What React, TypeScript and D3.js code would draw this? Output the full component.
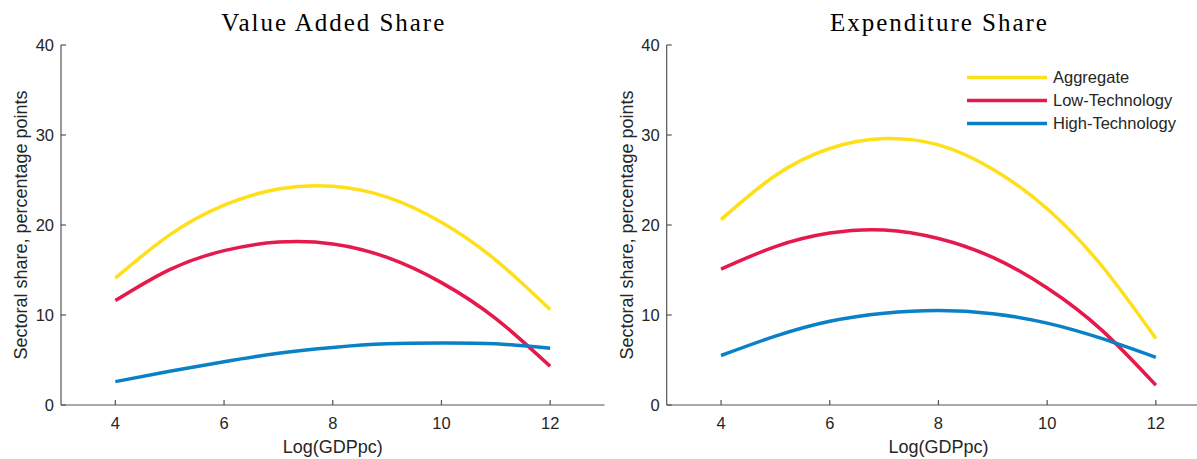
import * as d3 from "d3";
import React from "react";

// log GDP per capita grid
const gdpGrid = [4, 5, 6, 7, 8, 9, 10, 11, 12];

// value added share (percentage points)
const vaAggregate = [14.1, 18.9, 22.2, 24.0, 24.3, 23.1, 20.3, 16.1, 10.6];
const vaLowTech = [11.6, 15.05, 17.15, 18.1, 17.9, 16.4, 13.6, 9.6, 4.3];
const vaHighTech = [2.6, 3.75, 4.8, 5.75, 6.4, 6.8, 6.9, 6.8, 6.3];

// expenditure share (percentage points)
const exAggregate = [20.6, 25.5, 28.5, 29.6, 28.9, 26.2, 21.8, 15.5, 7.4];
const exLowTech = [15.1, 17.6, 19.1, 19.45, 18.5, 16.4, 13.0, 8.35, 2.2];
const exHighTech = [5.5, 7.65, 9.3, 10.2, 10.5, 10.15, 9.1, 7.4, 5.3];

const seriesNames = ["Aggregate", "Low-Technology", "High-Technology"];
const xTicks = [4, 6, 8, 10, 12];
const yTicks = [0, 10, 20, 30, 40];

const colors = ["#ffdf1a", "#e5194b", "#0a80c6"];
const textColor = "#262626";
const axisColor = "#555555";
const sans = "'Liberation Sans', Arial, sans-serif";

const W = 1197;
const H = 459;

const panels = [
  { title: "Value Added Share", titleW: 223, left: 61, series: [vaAggregate, vaLowTech, vaHighTech], legend: false },
  { title: "Expenditure Share", titleW: 217, left: 666.7, series: [exAggregate, exLowTech, exHighTech], legend: true },
];

const Panel = ({ p }: { p: any }) => {
  const top = 45;
  const bottom = 405;
  const pw = 543.5;

  const x = d3.scaleLinear().domain([3, 13]).range([p.left, p.left + pw]);
  const y = d3.scaleLinear().domain([0, 40]).range([bottom, top]);

  const line = d3
    .line<number>()
    .x((_, i) => x(gdpGrid[i]))
    .y((d) => y(d))
    .curve(d3.curveNatural);

  const cx = p.left + pw / 2;

  return (
    <g>
      <text
        x={cx}
        y={31}
        textAnchor="middle"
        fontFamily="'Liberation Serif', 'Times New Roman', serif"
        fontSize={25}
        textLength={p.titleW}
        lengthAdjust="spacing"
        fill="#000"
      >
        {p.title}
      </text>

      {/* axes */}
      <line x1={x(3)} x2={x(3)} y1={top} y2={bottom} stroke={axisColor} strokeWidth={1.2} />
      <line x1={x(3)} x2={x(13)} y1={bottom} y2={bottom} stroke={axisColor} strokeWidth={1.2} />

      {yTicks.map((t) => (
        <g key={"y" + t}>
          <line x1={x(3)} x2={x(3) + 5} y1={y(t)} y2={y(t)} stroke={axisColor} strokeWidth={1.2} />
          <text x={x(3) - 7} y={y(t)} dy="0.36em" textAnchor="end" fontFamily={sans} fontSize={16.5} fill={textColor}>
            {t}
          </text>
        </g>
      ))}
      {xTicks.map((t) => (
        <g key={"x" + t}>
          <line x1={x(t)} x2={x(t)} y1={bottom} y2={bottom - 5} stroke={axisColor} strokeWidth={1.2} />
          <text x={x(t)} y={429} textAnchor="middle" fontFamily={sans} fontSize={16.5} fill={textColor}>
            {t}
          </text>
        </g>
      ))}

      <text x={cx} y={453} textAnchor="middle" fontFamily={sans} fontSize={18} fill={textColor}>
        Log(GDPpc)
      </text>
      <text
        transform={`translate(${p.left - 34},${(top + bottom) / 2}) rotate(-90)`}
        textAnchor="middle"
        fontFamily={sans}
        fontSize={18}
        fill={textColor}
      >
        Sectoral share, percentage points
      </text>

      {p.series.map((s: number[], i: number) => (
        <path key={i} d={line(s) || ""} fill="none" stroke={colors[i]} strokeWidth={3.5} />
      ))}

      {p.legend &&
        seriesNames.map((name, i) => {
          const ly = 77.5 + i * 23;
          return (
            <g key={name}>
              <line x1={967} x2={1047} y1={ly} y2={ly} stroke={colors[i]} strokeWidth={3.5} />
              <text x={1053} y={ly} dy="0.36em" fontFamily={sans} fontSize={16.5} fill={textColor}>
                {name}
              </text>
            </g>
          );
        })}
    </g>
  );
};

export default function App() {
  return (
    <svg
      width={W}
      height={H}
      style={{ position: "absolute", left: 0, top: 0, background: "#fff" }}
    >
      <rect width={W} height={H} fill="#fff" />
      {panels.map((p) => (
        <Panel key={p.title} p={p} />
      ))}
    </svg>
  );
}
